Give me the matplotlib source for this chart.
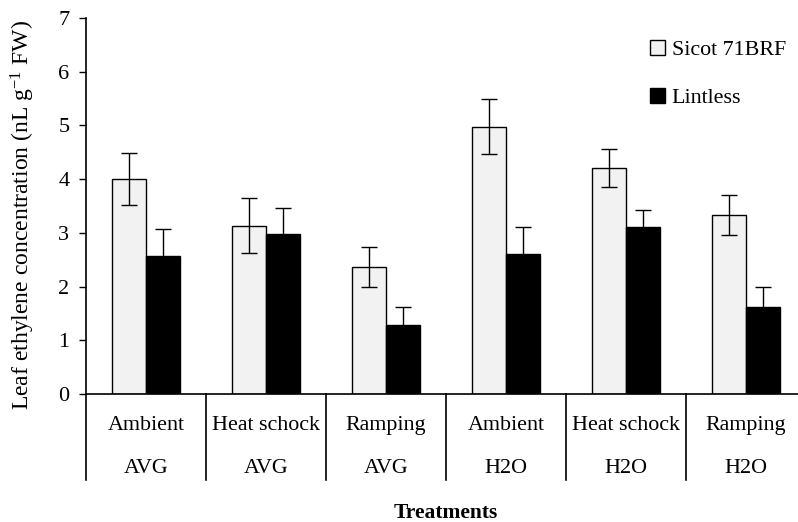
import matplotlib
matplotlib.use('Agg')
import matplotlib.pyplot as plt
import numpy as np

plt.rcParams['font.family'] = 'Liberation Serif'
plt.rcParams['mathtext.default'] = 'regular'

# Treatment levels (upper row) and solution (lower row)
treatments = ['Ambient', 'Heat schock', 'Ramping', 'Ambient', 'Heat schock', 'Ramping']
solutions = ['AVG', 'AVG', 'AVG', 'H2O', 'H2O', 'H2O']

# Mean ethylene concentration and error for each genotype
sicot = [4.00, 3.13, 2.36, 4.98, 4.21, 3.33]
sicot_err = [0.49, 0.51, 0.37, 0.51, 0.36, 0.37]
lintless = [2.57, 2.97, 1.28, 2.60, 3.10, 1.62]
lintless_err = [0.50, 0.50, 0.34, 0.50, 0.33, 0.37]

fig = plt.figure(figsize=(7.98, 5.22), dpi=100)
ax = fig.add_axes([86 / 798, 128 / 522, 712 / 798, 376 / 522])

x = np.arange(len(treatments))
w = 0.28
err_kw = dict(ecolor='black', elinewidth=1.0, capsize=5.5, capthick=1.0)
ax.bar(x - 0.14, sicot, w, yerr=sicot_err, color='#f2f2f2', edgecolor='black',
       linewidth=1.0, error_kw=err_kw, label='Sicot 71BRF')
ax.bar(x + 0.14, lintless, w, yerr=lintless_err, color='black', edgecolor='black',
       linewidth=1.0, error_kw=err_kw, label='Lintless')

ax.set_xlim(-0.5, -0.5 + 712 / 120)
ax.set_ylim(0, 7)
ax.set_yticks(range(8))
ax.tick_params(axis='y', direction='out', length=5, width=1, labelsize=16, pad=7)
ax.set_xticks([])

for side in ['top', 'right']:
    ax.spines[side].set_visible(False)
ax.spines['left'].set_linewidth(1.2)
ax.spines['bottom'].set_linewidth(1.2)

# two-row category axis with separators
trans = ax.get_xaxis_transform()
for b in np.arange(len(treatments) + 1) - 0.5:
    ax.plot([b, b], [0, -0.229], color='black', lw=1.2, transform=trans, clip_on=False)
for i in x:
    ax.text(i, -0.084, treatments[i], transform=trans, ha='center', va='center', fontsize=15.8)
    ax.text(i, -0.198, solutions[i], transform=trans, ha='center', va='center', fontsize=15.8)

ax.text(2.5, -0.316, 'Treatments', transform=trans, ha='center', va='center',
        fontsize=15.5, fontweight='bold')
ax.set_ylabel('Leaf ethylene concentration (nL g$^{-1}$ FW)', fontsize=17)
ax.yaxis.set_label_coords(-0.069, 0.475)

ax.legend(loc='upper left', bbox_to_anchor=(544 / 712, 0.994), frameon=False,
          fontsize=15.8, handlelength=0.7, handleheight=0.7, handletextpad=0.3,
          labelspacing=1.24)

plt.savefig('out.png', dpi=100)
